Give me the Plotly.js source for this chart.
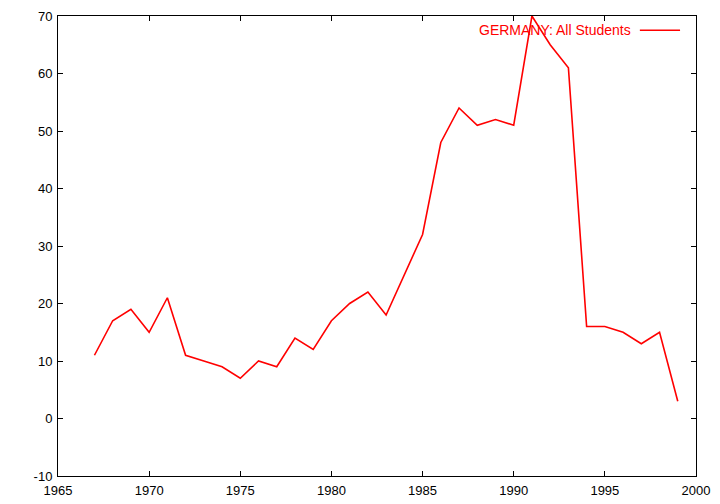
<!DOCTYPE html>
<html>
<head>
<meta charset="utf-8">
<script src="https://cdn.plot.ly/plotly-3.0.1.min.js"></script>
<style>html,body{margin:0;padding:0;background:#fff;}#chart{width:720px;height:504px;}</style>
</head>
<body>
<div id="chart"></div>
<script>
const years = [1967,1968,1969,1970,1971,1972,1973,1974,1975,1976,1977,1978,1979,1980,1981,1982,1983,1984,1985,1986,1987,1988,1989,1990,1991,1992,1993,1994,1995,1996,1997,1998,1999];
const values = [11,17,19,15,21,11,10,9,7,10,9,14,12,17,20,22,18,25,32,48,54,51,52,51,70,65,61,16,16,15,13,15,3];
const seriesName = "GERMANY: All Students";
const xTicks = [1965,1970,1975,1980,1985,1990,1995,2000];
const yTicks = [-10,0,10,20,30,40,50,60,70];

const font = {family: "Liberation Sans, Arial, sans-serif", size: 13, color: "#000"};
const trace = {
  x: years, y: values, type: "scatter", mode: "lines", name: seriesName,
  line: {color: "#ff0000", width: 1.6}, showlegend: false
};
const axisBase = {
  showgrid: false, zeroline: false, showline: true, linecolor: "#000", linewidth: 1,
  mirror: "ticks", ticks: "inside", ticklen: 5, tickcolor: "#000", tickwidth: 1,
  tickfont: font
};
const layout = {
  width: 720, height: 504,
  margin: {l: 58, r: 24, t: 16, b: 28},
  paper_bgcolor: "#fff", plot_bgcolor: "#fff",
  font: font,
  xaxis: Object.assign({}, axisBase, {range: [1965, 2000], tickvals: xTicks, ticktext: xTicks.map(String), ticklabelstandoff: 2}),
  yaxis: Object.assign({}, axisBase, {range: [-10, 70], tickvals: yTicks, ticktext: yTicks.map(String), ticklabelstandoff: 2}),
  annotations: [{
    xref: "paper", yref: "paper", x: 0.902, y: 0.969, xanchor: "right", yanchor: "middle",
    text: seriesName, showarrow: false, font: {family: font.family, size: 14, color: "#ff0000"}
  }],
  shapes: [{
    type: "line", xref: "paper", yref: "paper", x0: 0.912, x1: 0.975, y0: 0.969, y1: 0.969,
    line: {color: "#ff0000", width: 1.6}
  }]
};
Plotly.newPlot("chart", [trace], layout, {displayModeBar: false, staticPlot: true});
</script>
</body>
</html>
